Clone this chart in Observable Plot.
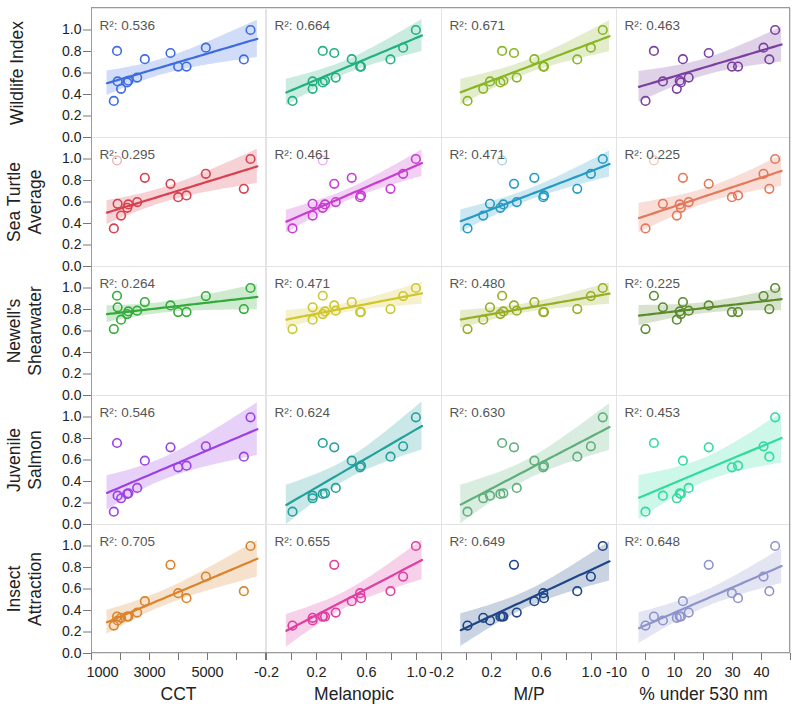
<!DOCTYPE html>
<html><head><meta charset="utf-8">
<script src="https://cdn.jsdelivr.net/npm/d3@7"></script>
<script src="https://cdn.jsdelivr.net/npm/@observablehq/plot@0.6"></script>
<style>
body{margin:0;background:#fff;}
#chart{position:relative;width:800px;height:706px;font-family:"Liberation Sans",Arial,Helvetica,sans-serif;}
#chart svg{position:absolute;top:0;overflow:visible;}
#outer{position:absolute;left:91px;top:7px;width:699px;height:646px;border:1px solid #9a9a9a;box-sizing:border-box;pointer-events:none;}
</style></head><body><div id="chart"><div id="outer"></div></div>
<script>
// light sources (one entry per source)
const sourceIds = ["A","B","C","D","E","F","G","H","I","J","K","L","M","N"];
const cct =       [1770, 3724, 6483, 4943, 6253, 3989, 4276, 2839, 2575, 2020, 1900, 1880, 2230, 2270];
const melanopic = [0.008, 0.342, 0.995, 0.893, 0.792, 0.549, 0.556, 0.482, 0.354, 0.169, 0.169, 0.250, 0.250, 0.268];
const mpRatio =   [0.008, 0.380, 1.090, 0.995, 0.886, 0.614, 0.620, 0.543, 0.402, 0.134, 0.188, 0.285, 0.271, 0.295];
const under530 =  [0.0, 21.8, 44.7, 40.7, 42.7, 29.8, 31.9, 12.9, 14.9, 10.8, 6.0, 2.9, 12.2, 11.8];

// responses
const wildlife =   [0.340, 0.786, 1.000, 0.836, 0.726, 0.660, 0.660, 0.729, 0.557, 0.453, 0.522, 0.805, 0.512, 0.528];
const seaTurtle =  [0.354, 0.769, 1.000, 0.862, 0.723, 0.645, 0.661, 0.825, 0.599, 0.474, 0.583, 0.986, 0.546, 0.577];
const shearwater = [0.618, 0.838, 1.000, 0.925, 0.804, 0.776, 0.776, 0.869, 0.789, 0.705, 0.820, 0.928, 0.757, 0.782];
const salmon =     [0.119, 0.718, 0.997, 0.727, 0.631, 0.532, 0.547, 0.594, 0.340, 0.244, 0.268, 0.758, 0.284, 0.290];
const insect =     [0.260, 0.825, 1.000, 0.716, 0.580, 0.561, 0.515, 0.487, 0.381, 0.332, 0.307, 0.344, 0.344, 0.344];

const rowNames = ["Wildlife Index", "Sea Turtle\nAverage", "Newell's\nShearwater", "Juvenile\nSalmon", "Insect\nAttraction"];
const colNames = ["CCT", "Melanopic", "M/P", "% under 530 nm"];

const panelColors = [
  ["#3d6be0", "#21b07f", "#88b524", "#7b3fa0"],
  ["#d8404e", "#c93cd2", "#259ac4", "#e5775a"],
  ["#33ab3a", "#cfc62a", "#98ad22", "#5a8b2c"],
  ["#9c40e6", "#22a09c", "#5fae7c", "#2fdc9e"],
  ["#da832b", "#df3ea2", "#1e4586", "#8e94cb"]
];
const r2Values = [
  [0.536, 0.664, 0.671, 0.463],
  [0.295, 0.461, 0.471, 0.225],
  [0.264, 0.471, 0.480, 0.225],
  [0.546, 0.624, 0.630, 0.453],
  [0.705, 0.655, 0.649, 0.648]
];
// points excluded from the fit (drawn faded)
const excludedPoints = [{row: 1, source: "L"}];

const yTicks = [0, 0.2, 0.4, 0.6, 0.8, 1.0];
const xDomains = [[1000, 7000], [-0.2, 1.2], [-0.2, 1.2], [-10, 50]];
const xTicks = [
  [1000, 2000, 3000, 4000, 5000, 6000, 7000],
  [-0.2, 0, 0.2, 0.4, 0.6, 0.8, 1.0, 1.2],
  [-0.2, 0, 0.2, 0.4, 0.6, 0.8, 1.0, 1.2],
  [-10, 0, 10, 20, 30, 40, 50]
];
const xTickLabels = [
  [3000, 5000],
  [-0.2, 0.2, 0.6, 1.0],
  [-0.2, 0.2, 0.6, 1.0],
  [-10, 0, 10, 20, 30, 40]
];
const hyphen = f => d => f(d).replace("\u2212", "-");
const xFormats = [hyphen(d3.format("d")), hyphen(d3.format(".1f")), hyphen(d3.format(".1f")), hyphen(d3.format("d"))];

const predictors = [cct, melanopic, mpRatio, under530];
const responses = [wildlife, seaTurtle, shearwater, salmon, insect];

// two-sided 95% t quantiles by degrees of freedom
const t975 = {10: 2.228, 11: 2.201, 12: 2.179, 13: 2.160};

// least-squares fit with 95% confidence band of the mean
function fitBand(pts, row, color) {
  const n = pts.length;
  const mx = d3.mean(pts, p => p.x), my = d3.mean(pts, p => p.y);
  const sxx = d3.sum(pts, p => (p.x - mx) ** 2);
  const b = d3.sum(pts, p => (p.x - mx) * (p.y - my)) / sxx;
  const a = my - b * mx;
  const s = Math.sqrt(d3.sum(pts, p => (p.y - a - b * p.x) ** 2) / (n - 2));
  const t = t975[n - 2];
  const [x0, x1] = d3.extent(pts, p => p.x);
  const pad = (x1 - x0) * 0.05;
  return d3.range(41).map(k => {
    const x = x0 - pad + (x1 - x0 + 2 * pad) * k / 40;
    const yh = a + b * x;
    const h = t * s * Math.sqrt(1 / n + (x - mx) ** 2 / sxx);
    return {row, color, x, y: yh, lo: yh - h, hi: yh + h};
  });
}

// layout of the four column plots
const colLeft = [0, 265, 441, 616];
const colWidth = [265, 176, 175, 184];
const colMarginLeft = [91, 1, 0, 0];
const colMarginRight = [0, 0, 0, 10];

const chart = document.getElementById("chart");
const FONT = "Liberation Sans, Arial, Helvetica, sans-serif";

for (let c = 0; c < 4; c++) {
  const data = [];
  const fits = [];
  responses.forEach((resp, r) => {
    const rowPts = sourceIds.map((s, i) => ({
      row: r, source: s, x: predictors[c][i], y: resp[i],
      color: panelColors[r][c],
      excluded: excludedPoints.some(e => e.row === r && e.source === s)
    }));
    data.push(...rowPts);
    fits.push(...fitBand(rowPts.filter(p => !p.excluded), r, panelColors[r][c]));
  });
  const r2Data = r2Values.map((v, r) => ({row: r, label: `R²: ${v[c].toFixed(3)}`}));
  const labelSet = new Set(xTickLabels[c]);
  const fmt = xFormats[c];
  const marks = [
    Plot.frame({stroke: "#e3e3e3"}),
    Plot.areaY(fits, {x: "x", y1: "lo", y2: "hi", fy: "row", z: "row", fill: "color", fillOpacity: 0.24, clip: true}),
    Plot.line(fits, {x: "x", y: "y", fy: "row", z: "row", stroke: "color", strokeWidth: 2.2, clip: true}),
    Plot.dot(data.filter(d => !d.excluded), {x: "x", y: "y", fy: "row", stroke: "color", r: 4.3, strokeWidth: 1.6}),
    Plot.dot(data.filter(d => d.excluded), {x: "x", y: "y", fy: "row", stroke: "color", r: 4.3, strokeWidth: 1.2, strokeOpacity: 0.45}),
    Plot.text(r2Data, {fy: "row", frameAnchor: "top-left", text: "label", dx: 8, dy: 12, lineAnchor: "top", textAnchor: "start", fontSize: 13.5, fill: "#555"}),
    Plot.axisX({
      ticks: xTicks[c], tickFormat: d => labelSet.has(d) ? fmt(d) : "",
      tickSize: 7, tickPadding: 6, fontSize: 14.5, label: null, facetAnchor: "bottom", stroke: "#777", fill: "#222"
    }),
    Plot.text([colNames[c]], {facet: "super", frameAnchor: "bottom", dy: 34, lineAnchor: "top", fontSize: 17.5, fill: "#222"})
  ];
  if (c === 0) {
    const rowLabelData = rowNames.map((n, r) => ({row: r, label: n}));
    marks.push(
      Plot.axisX({ticks: [1000], tickFormat: fmt, tickSize: 0, tickPadding: 13, dx: 11, fontSize: 14.5, label: null, facetAnchor: "bottom", fill: "#222"}),
      Plot.axisY({ticks: yTicks, tickFormat: d3.format(".1f"), tickSize: 8, tickPadding: 2, fontSize: 14, label: null, facetAnchor: "left", stroke: "#777", fill: "#222"}),
      Plot.text(rowLabelData.filter(d => !d.label.includes("\n")),
        {fy: "row", frameAnchor: "left", text: "label", rotate: -90, dx: -74, fontSize: 17.5, fill: "#222", textAnchor: "middle", lineAnchor: "middle"}),
      Plot.text(rowLabelData.filter(d => d.label.includes("\n")),
        {fy: "row", frameAnchor: "left", text: "label", rotate: -90, dx: -68, fontSize: 17.5, fill: "#222", textAnchor: "middle", lineAnchor: "middle", lineHeight: 1.2})
    );
  }
  const svg = Plot.plot({
    width: colWidth[c], height: 706,
    marginLeft: colMarginLeft[c], marginRight: colMarginRight[c],
    marginTop: 7, marginBottom: 53,
    x: {domain: xDomains[c]},
    y: {domain: [0, 1.2], axis: c === 0 ? undefined : null},
    fy: {domain: [0, 1, 2, 3, 4], padding: 0, axis: null},
    color: {type: "identity"},
    style: {fontFamily: FONT, fontSize: "14px", background: "transparent", overflow: "visible", color: "#222"},
    marks
  });
  svg.style.left = colLeft[c] + "px";
  chart.insertBefore(svg, document.getElementById("outer"));
}
</script></body></html>
